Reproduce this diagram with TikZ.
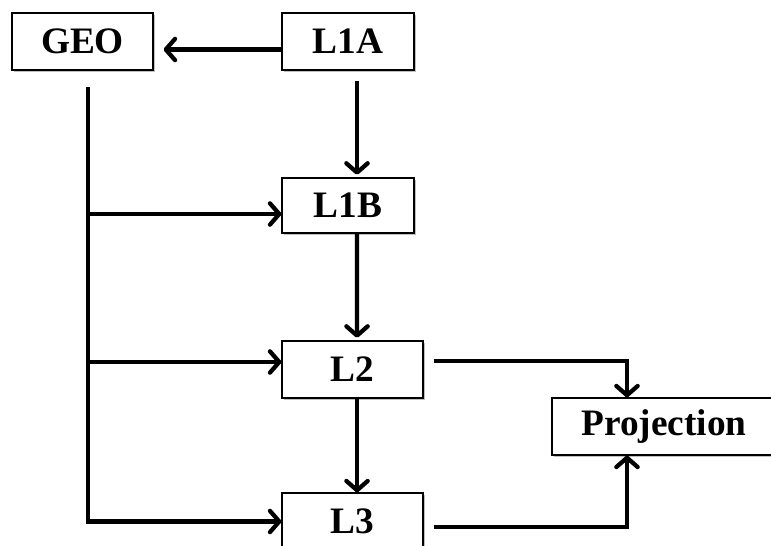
\documentclass[tikz,border=0pt]{standalone}
\usepackage{fontspec}
\setmainfont{Liberation Serif}
\usetikzlibrary{arrows.meta,shadows}

\begin{document}
\begin{tikzpicture}[x=0.75pt,y=0.75pt,yscale=-1,xscale=1,
  blk/.style={draw,line width=0.9pt,fill=white,inner sep=0pt,minimum height=42.75pt,
    font=\bfseries\fontsize{28}{30}\selectfont,
    drop shadow={shadow xshift=1.5pt,shadow yshift=-1.5pt,fill=black!25,opacity=1}},
  conn/.style={line width=3.2pt,-{Straight Barb[length=7pt,width=16pt,line width=3.2pt,round]}}]
\useasboundingbox (0,0) rectangle (771,546);

%Boxes
\node[blk,minimum width=105.75pt] (geo) at (82.5,41.5) {GEO};
\node[blk,minimum width=99pt] (l1a) at (348,41.5) {L1A};
\node[blk,minimum width=99pt,minimum height=41.25pt] (l1b) at (348,205.5) {L1B};
\node[blk,minimum width=105.75pt] (l2) at (352.5,369.5) {L2};
\node[blk,minimum width=105.75pt] (l3) at (352.5,521.5) {L3};
\node[blk,minimum width=168pt] (proj) at (664,426.5) {Projection};

%Lanes
\coordinate (tk) at (88,87);
\coordinate (k1) at (88,214);
\coordinate (k2) at (88,362);
\coordinate (pj) at (627,0);

%L1A to GEO
\draw[conn] ([yshift=6pt]l1a.west) -- ([yshift=6pt,xshift=7.5pt]geo.east);

%GEO trunk
\draw[conn] (tk) |- (l3.west);
\draw[conn] (k1) -- (k1 -| l1b.west);
\draw[conn] (k2) -- (k2 -| l2.west);

%Processing chain
\draw[conn] ([xshift=6.75pt,yshift=7.5pt]l1a.south) -- ([xshift=6.75pt,yshift=-2pt]l1b.north);
\draw[conn] ([xshift=6.75pt]l1b.south) -- ([xshift=3.4pt,yshift=-2pt]l2.north);
\draw[conn] ([xshift=3.4pt]l2.south) -- ([xshift=3.4pt]l3.north);

%To projection
\draw[conn] ([xshift=7.5pt,yshift=-6.4pt]l2.east) -| (pj |- proj.north);
\draw[conn] ([xshift=7.5pt,yshift=4.1pt]l3.east) -| (pj |- proj.south);

\end{tikzpicture}
\end{document}
